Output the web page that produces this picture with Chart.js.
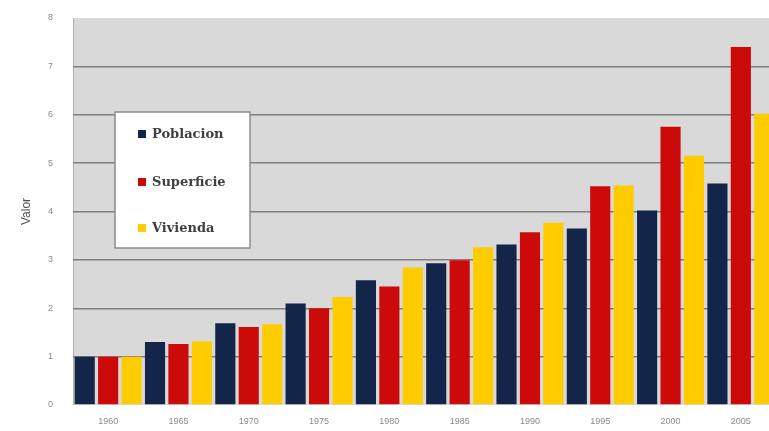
<!DOCTYPE html>
<html>
<head>
<meta charset="utf-8">
<script src="https://cdn.jsdelivr.net/npm/chart.js@4/dist/chart.umd.min.js"></script>
<style>
  html, body { margin: 0; padding: 0; background: #ffffff; overflow: hidden; }
  #wrap { width: 776px; height: 431px; position: relative; }
</style>
</head>
<body>
<div id="wrap"><canvas id="c"></canvas></div>
<script>
const years = ['1960', '1965', '1970', '1975', '1980', '1985', '1990', '1995', '2000', '2005'];
const seriesNames = ['Poblacion', 'Superficie', 'Vivienda'];
const poblacion  = [1.00, 1.30, 1.69, 2.10, 2.58, 2.93, 3.32, 3.65, 4.02, 4.58];
const superficie = [1.00, 1.26, 1.61, 2.00, 2.45, 2.99, 3.57, 4.52, 5.75, 7.40];
const vivienda   = [1.00, 1.32, 1.67, 2.23, 2.84, 3.26, 3.77, 4.54, 5.15, 6.02];
const yTicks = [0, 1, 2, 3, 4, 5, 6, 7, 8];
const colors = ['#13264a', '#cc0a0a', '#ffcc00'];

const plotBg = {
  id: 'plotBg',
  beforeDraw(chart) {
    const { ctx, chartArea: a } = chart;
    ctx.save();
    ctx.fillStyle = '#d9d9d9';
    ctx.fillRect(a.left, a.top, a.right - a.left, a.bottom - a.top);
    ctx.strokeStyle = '#b0b0b0';
    ctx.lineWidth = 1;
    ctx.beginPath();
    ctx.moveTo(a.left + 0.5, a.top);
    ctx.lineTo(a.left + 0.5, a.bottom);
    ctx.stroke();
    ctx.restore();
  }
};

const boxLegend = {
  id: 'boxLegend',
  afterDraw(chart) {
    const { ctx } = chart;
    const x0 = 115, y0 = 112, w = 135, h = 136;
    ctx.save();
    ctx.fillStyle = '#ffffff';
    ctx.fillRect(x0, y0, w, h);
    ctx.strokeStyle = '#8c8c8c';
    ctx.lineWidth = 1.5;
    ctx.strokeRect(x0, y0, w, h);
    const rows = [134, 182, 228];
    ctx.font = 'bold 13px "DejaVu Serif", "Liberation Serif", serif';
    ctx.textBaseline = 'middle';
    ctx.textAlign = 'left';
    chart.data.datasets.forEach((ds, i) => {
      ctx.fillStyle = ds.backgroundColor;
      ctx.fillRect(138, rows[i] - 4, 8, 8);
      ctx.fillStyle = '#404040';
      ctx.fillText(ds.label, 152, rows[i] + 1);
    });
    ctx.restore();
  }
};

new Chart(document.getElementById('c'), {
  type: 'bar',
  data: {
    labels: years,
    datasets: [
      { label: seriesNames[0], data: poblacion,  backgroundColor: colors[0] },
      { label: seriesNames[1], data: superficie, backgroundColor: colors[1] },
      { label: seriesNames[2], data: vivienda,   backgroundColor: colors[2] }
    ]
  },
  options: {
    responsive: true,
    maintainAspectRatio: false,
    animation: false,
    devicePixelRatio: 1,
    datasets: { bar: { categoryPercentage: 1.0, barPercentage: 0.86 } },
    layout: { padding: { top: 18, right: 0, bottom: 0, left: 0 } },
    plugins: { legend: { display: false }, tooltip: { enabled: false } },
    scales: {
      x: {
        grid: { display: false, drawTicks: false },
        border: { display: false },
        ticks: { color: '#8a8a8a', font: { size: 9, family: 'Arial, "Liberation Sans", sans-serif' }, padding: 11, maxRotation: 0 },
        afterFit(scale) { scale.height = 26; }
      },
      y: {
        min: 0, max: 8,
        afterBuildTicks(scale) { scale.ticks = yTicks.map(v => ({ value: v })); },
        grid: {
          color: (c) => (c.tick && (c.tick.value === 0 || c.tick.value === 8)) ? 'rgba(0,0,0,0)' : '#7f7f7f',
          lineWidth: 1.5, drawTicks: false
        },
        border: { display: false },
        ticks: { color: '#8a8a8a', font: { size: 9, family: 'Arial, "Liberation Sans", sans-serif' }, padding: 20 },
        title: { display: true, text: 'Valor', color: '#505050', font: { size: 12, family: 'Arial, "Liberation Sans", sans-serif' }, padding: { top: 19, bottom: 0 } },
        afterFit(scale) { scale.width = 73; scale.paddingTop = 0; scale.paddingBottom = 0; }
      }
    }
  },
  plugins: [plotBg, boxLegend]
});
</script>
</body>
</html>
